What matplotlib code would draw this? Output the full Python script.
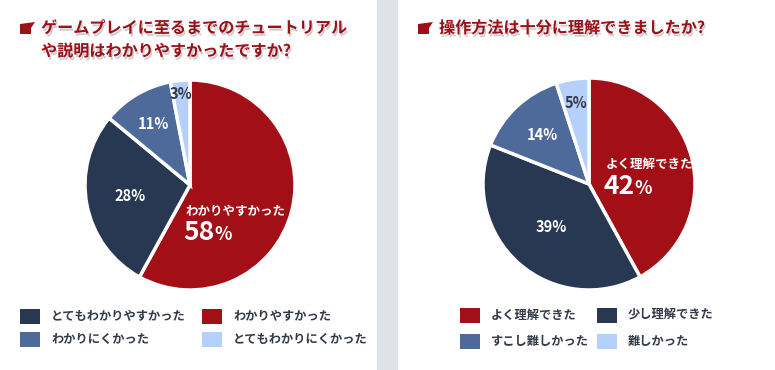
import numpy as np
import matplotlib
matplotlib.use("Agg")
import matplotlib.pyplot as plt
import matplotlib.patheffects as pe
from matplotlib.patches import Rectangle, Polygon

plt.rcParams['font.family'] = ['Noto Sans CJK JP', 'DejaVu Sans']

# ---- data ----
title1 = "ゲームプレイに至るまでのチュートリアル\nや説明はわかりやすかったですか?"
labels1 = ["わかりやすかった", "とてもわかりやすかった", "わかりにくかった", "とてもわかりにくかった"]
values1 = [58, 28, 11, 3]

title2 = "操作方法は十分に理解できましたか?"
labels2 = ["よく理解できた", "少し理解できた", "すこし難しかった", "難しかった"]
values2 = [42, 39, 14, 5]

colors = ['#a30f17', '#283852', '#4d6a9a', '#b4d0fb']
legend_order1 = [1, 2, 0, 3]
legend_order2 = [0, 2, 1, 3]

TITLE_C = '#9c1018'
TEXT_C = '#333a48'
W, H = 775, 370

fig = plt.figure(figsize=(W / 100, H / 100), dpi=100)
bg = fig.add_axes([0, 0, 1, 1])
bg.set_xlim(0, W)
bg.set_ylim(H, 0)
bg.axis('off')

# grey divider between panels
bg.add_patch(Rectangle((377, 0), 21, H, color='#dfe3e8', lw=0))

shadow = [pe.withSimplePatchShadow(offset=(1, -2), shadow_rgbFace='#777777', alpha=0.35)]


def title(x, y, txt):
    bg.add_patch(Polygon([(x, y - 5), (x + 15, y - 7), (x + 11, y - 1), (x + 11, y + 5), (x, y + 5)],
                         closed=True, color=TITLE_C, lw=0))
    bg.text(x + 21, y - 9, txt, ha='left', va='top', fontsize=11.6, fontweight='bold',
            color=TITLE_C, linespacing=1.55, path_effects=shadow)


def pie(cx, cy, r, values, pct_r, big_label, big_xy):
    ax = fig.add_axes([(cx - r) / W, (H - cy - r) / H, 2 * r / W, 2 * r / H])
    wedges, _ = ax.pie(values, colors=colors, startangle=90, counterclock=False,
                       wedgeprops=dict(edgecolor='white', linewidth=2.5))
    ax.set_xlim(-1.0, 1.0)
    ax.set_ylim(-1.0, 1.0)
    ax.set_aspect('equal')
    for i, w in enumerate(wedges):
        if i == 0:
            bx, by = big_xy
            ax.text(bx, by, big_label, ha='left', va='center', fontsize=9,
                    fontweight='bold', color='white', clip_on=False)
            ax.text(bx - 0.02, by - 0.2, f"{values[i]}", ha='left', va='center', fontsize=19,
                    fontweight='bold', color='white', clip_on=False)
            ax.text(bx + 0.27, by - 0.22, "%", ha='left', va='center', fontsize=13,
                    fontweight='bold', color='white', clip_on=False)
            continue
        ang = np.deg2rad((w.theta1 + w.theta2) / 2)
        tc = TEXT_C if i == 3 else 'white'
        ax.text(pct_r[i] * np.cos(ang), pct_r[i] * np.sin(ang), f"{values[i]}%",
                ha='center', va='center', fontsize=10.5, fontweight='bold', color=tc)


def legend(x0, y0, dx, dy, labels, order):
    for k, i in enumerate(order):
        col, row = divmod(k, 2)
        x = x0 + col * dx
        y = y0 + row * dy
        bg.add_patch(Rectangle((x, y), 20, 15, color=colors[i], lw=0))
        bg.text(x + 31, y + 7.5, labels[i], ha='left', va='center', fontsize=8.8,
                fontweight='bold', color=TEXT_C)


title(20, 29, title1)
title(418, 29, title2)

pie(190, 185, 105, values1, [0, 0.58, 0.68, 0.87], labels1[0], (-0.04, -0.25))
pie(589, 184, 106, values2, [0, 0.54, 0.64, 0.77], labels2[0], (0.16, 0.18))

legend(20, 309, 182, 23, labels1, legend_order1)
legend(460, 308, 137, 26, labels2, legend_order2)

fig.savefig("out.png", dpi=100)
